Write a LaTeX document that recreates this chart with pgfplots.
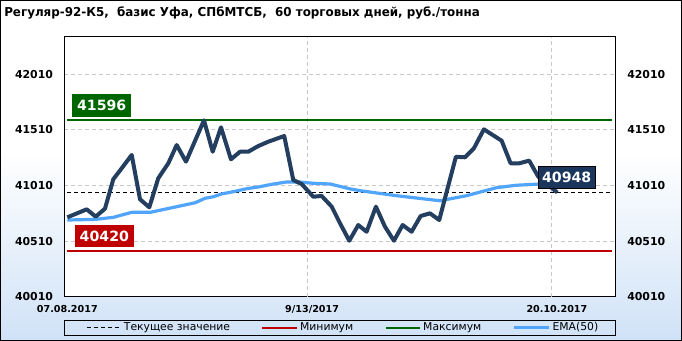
\documentclass[border=0pt]{standalone}
\usepackage{fontspec}
\setmainfont{DejaVu Sans}
\newfontfamily\titlefont{DejaVu Sans}[FakeStretch=0.97]
\usepackage{pgfplots}
\pgfplotsset{compat=1.18}
\definecolor{darkln}{RGB}{36,62,95}
\definecolor{darkbox}{RGB}{26,54,92}
\definecolor{emablue}{RGB}{80,165,250}
\definecolor{maxgreen}{RGB}{0,102,0}
\definecolor{minred}{RGB}{192,0,0}
\definecolor{bgblue}{RGB}{208,226,247}
\definecolor{gridgray}{RGB}{200,200,200}
\begin{document}
\begin{tikzpicture}
\useasboundingbox (0,0) rectangle (511.5pt,255.75pt);
\fill[white] (0,0) rectangle (511.5pt,255.75pt);
\shade[top color=white, bottom color=bgblue] (0,0) rectangle (511.5pt,142pt);
\draw[black, line width=0.75pt] (0.375pt,0.375pt) rectangle (511.125pt,255.375pt);
\node[anchor=west, inner sep=0pt, font=\titlefont\bfseries\fontsize{9.2}{11}\selectfont] at (3pt,246pt)
  {Регуляр-92-К5,\ \ базис Уфа, СПбМТСБ,\ \ 60 торговых дней, руб./тонна};
\draw[black, line width=0.75pt] (48pt,4.3pt) rectangle (461.25pt,15.5pt);
\begin{axis}[
  at={(48pt,33pt)}, anchor=south west, scale only axis,
  width=413.25pt, height=195pt,
  xmin=-0.4, xmax=66.0, ymin=40010, ymax=42344,
  scaled y ticks=false, scaled x ticks=false,
  axis background/.style={fill=white},
  axis line style={black, line width=0.75pt},
  major tick length=0pt,
  ytick={40010,40510,41010,41510,42010},
  yticklabels={40010,40510,41010,41510,42010},
  yticklabel style={font=\bfseries\fontsize{8.2}{9}\selectfont, inner sep=0pt, xshift=-8pt},
  xtick={0,29.5,59},
  xticklabels={07.08.2017,9/13/2017,20.10.2017},
  xticklabel style={font=\bfseries\fontsize{7.2}{8}\selectfont, inner sep=0pt, yshift=-6pt},
  extra x ticks={29,58.4},
  extra x tick labels={},
  extra x tick style={xmajorgrids=true},
  ymajorgrids=true,
  grid style={gridgray, line width=0.75pt, dash pattern=on 3pt off 2.25pt},
  legend columns=4,
  legend style={draw=none, fill=none, at={(0.0399,-0.118)}, anchor=west,
    font=\fontsize{8.1}{9}\selectfont, inner sep=0pt,
    /tikz/every even column/.append style={column sep=22pt},
    nodes={inner sep=1.5pt}},
  legend image code/.code={\draw[#1] (0pt,0pt) -- (26pt,0pt);},
  clip=false,
]
\addplot[black, line width=0.75pt, dash pattern=on 3pt off 2.25pt] coordinates {(0,40948) (65.6,40948)};
\addlegendentry{Текущее значение}
\addplot[minred, line width=1.5pt] coordinates {(0,40420) (65.6,40420)};
\addlegendentry{Минимум}
\addplot[maxgreen, line width=1.5pt] coordinates {(0,41596) (65.6,41596)};
\addlegendentry{Максимум}
\addplot[emablue, line width=2.4pt, line join=round] coordinates {
(0,40701) (3.4,40707) (5.54,40725) (7.76,40770) (10.0,40770) (15.4,40856) (16.6,40896)
(17.6,40910) (18.6,40935) (20.0,40955) (21.6,40982) (23.2,41000) (24.8,41024) (26.4,41042)
(28.0,41042) (29.6,41031) (31.7,41024) (34.1,40980) (35.3,40964) (39.7,40919) (44.9,40874)
(48.1,40919) (51.7,40991) (54.1,41013) (56.9,41024) (59.04,41024)};
\addlegendentry{EMA(50)}
\addplot[darkln, line width=3pt, line join=round, forget plot] coordinates {
(0,40725) (2.34,40797) (3.42,40731) (4.54,40803) (5.54,41067) (6.55,41165) (7.76,41285)
(8.76,40887) (9.88,40815) (10.96,41076) (12.17,41210) (13.18,41374) (14.3,41225)
(16.47,41596) (17.52,41314) (18.52,41533) (19.72,41246) (20.81,41314) (21.81,41314)
(23.01,41365) (24.22,41404) (26.14,41455) (27.23,41060) (28.24,41024) (29.64,40910)
(30.65,40917) (31.86,40821) (32.86,40672) (33.98,40515) (35.06,40656) (36.07,40596)
(37.19,40821) (38.28,40641) (39.36,40515) (40.41,40656) (41.49,40596) (42.58,40737)
(43.7,40761) (44.82,40701) (46.83,41269) (47.92,41264) (49.0,41345) (50.2,41515)
(52.34,41413) (53.42,41210) (54.46,41210) (55.66,41234) (56.75,41090) (59.04,40948)};
\node[fill=maxgreen, text=white, font=\bfseries\fontsize{10.6}{12}\selectfont,
  minimum height=17pt, inner xsep=3.5pt, inner ysep=0pt] at (axis cs:4.14,41731) {41596};
\node[fill=minred, text=white, font=\bfseries\fontsize{10.6}{12}\selectfont,
  minimum height=16.5pt, inner xsep=3.5pt, inner ysep=0pt] at (axis cs:4.46,40555) {40420};
\node[fill=darkbox, draw=black, line width=0.75pt, text=white, font=\bfseries\fontsize{10.6}{12}\selectfont,
  minimum height=16pt, inner xsep=3pt, inner ysep=0pt] at (axis cs:60.18,41083) {40948};
\end{axis}
\begin{axis}[
  at={(48pt,33pt)}, anchor=south west, scale only axis,
  width=413.25pt, height=195pt,
  xmin=-0.4, xmax=66.0, ymin=40010, ymax=42344,
  scaled y ticks=false, scaled x ticks=false,
  axis x line=none, axis y line*=right,
  axis line style={black, line width=0.75pt},
  major tick length=0pt,
  ytick={40010,40510,41010,41510,42010},
  yticklabels={40010,40510,41010,41510,42010},
  yticklabel style={font=\bfseries\fontsize{8.2}{9}\selectfont, inner sep=0pt, xshift=9pt},
]
\addplot[draw=none] coordinates {(0,40010)};
\end{axis}
\end{tikzpicture}
\end{document}
